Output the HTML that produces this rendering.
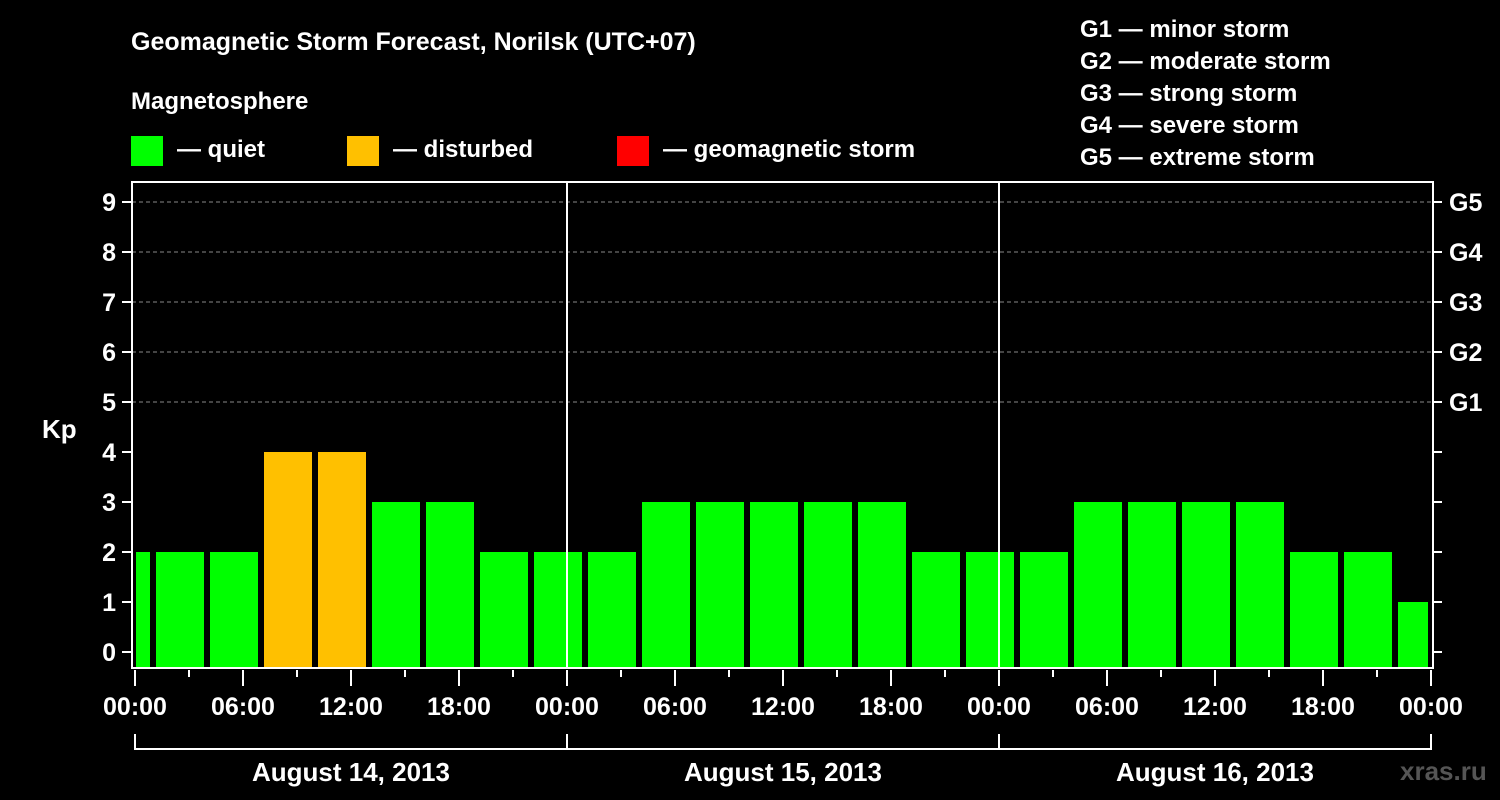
<!DOCTYPE html>
<html><head><meta charset="utf-8"><style>
body{margin:0;background:#000;width:1500px;height:800px;overflow:hidden}
svg{display:block;font-family:"Liberation Sans",Arial,sans-serif;font-weight:bold}
</style></head><body>
<svg id="c" width="1500" height="800">
<text x="131" y="50" fill="#fff" font-size="25">Geomagnetic Storm Forecast, Norilsk (UTC+07)</text>
<text x="131" y="109" fill="#fff" font-size="24">Magnetosphere</text>
<g><rect x="131" y="136" width="32" height="30" fill="#00ff00"/><text x="177" y="157" fill="#fff" font-size="24">— quiet</text></g>
<g><rect x="347" y="136" width="32" height="30" fill="#ffc000"/><text x="393" y="157" fill="#fff" font-size="24">— disturbed</text></g>
<g><rect x="617" y="136" width="32" height="30" fill="#ff0000"/><text x="663" y="157" fill="#fff" font-size="24">— geomagnetic storm</text></g>
<g fill="#fff" font-size="24">
<text x="1080" y="37">G1 — minor storm</text><text x="1080" y="69">G2 — moderate storm</text><text x="1080" y="101">G3 — strong storm</text><text x="1080" y="133">G4 — severe storm</text><text x="1080" y="165">G5 — extreme storm</text></g>
<text x="42" y="438" fill="#fff" font-size="26">Kp</text>
<text x="1400" y="780" fill="#555" font-size="26">xras.ru</text>
<g id="grid"></g><g id="bars"></g><g id="axes"></g>
</svg>
<script>
const kpValues=[2,2,2,4,4,3,3,2,2,2,3,3,3,3,3,2,2,2,3,3,3,3,2,2,1];
const barStartHours=[-2,1,4,7,10,13,16,19,22,25,28,31,34,37,40,43,46,49,52,55,58,61,64,67,70];
const yTicks=[0,1,2,3,4,5,6,7,8,9];
const gLabels=["G1","G2","G3","G4","G5"];
const gLevels=[5,6,7,8,9];
const xTickLabels=["00:00","06:00","12:00","18:00","00:00","06:00","12:00","18:00","00:00","06:00","12:00","18:00","00:00"];
const dayLabels=["August 14, 2013","August 15, 2013","August 16, 2013"];
const NS="http://www.w3.org/2000/svg";
const X0=135,PX_H=18,Y0=652,PX_K=50,L=132,R=1433,T=182,B=668;
const xs=h=>X0+h*PX_H, ys=k=>Y0-k*PX_K;
function mk(p,tag,a){const e=document.createElementNS(NS,tag);for(const k in a)e.setAttribute(k,a[k]);p.appendChild(e);return e;}
const grid=document.getElementById('grid'),bars=document.getElementById('bars'),axes=document.getElementById('axes');
gLevels.forEach((g,i)=>{
 const l=mk(grid,'line',{x1:L,x2:R,y1:ys(g),y2:ys(g),stroke:'#888','stroke-dasharray':'4,3','stroke-width':1});
 
 
});
kpValues.forEach((v,i)=>{
 let x1=xs(barStartHours[i])+3,x2=xs(barStartHours[i]+3)-3;
 x1=Math.max(x1,L+4);x2=Math.min(x2,R-5);
 const col=v>=5?'#ff0000':(v>=4?'#ffc000':'#00ff00');
 const r=mk(bars,'rect',{x:x1,y:ys(v),width:x2-x1,height:B-ys(v),fill:col});
 
 
});
// day separators
[1,2].forEach(d=>{const l=mk(axes,'line',{x1:xs(24*d),x2:xs(24*d),y1:T,y2:B,stroke:'#fff','stroke-width':2});
 
 });
const fr=mk(axes,'rect',{x:L,y:T,width:R-L,height:B-T,fill:'none',stroke:'#fff','stroke-width':2});


yTicks.forEach(k=>{
 mk(axes,'line',{x1:L-10,x2:L,y1:ys(k),y2:ys(k),stroke:'#fff','stroke-width':2});
 mk(axes,'line',{x1:R,x2:R+9,y1:ys(k),y2:ys(k),stroke:'#fff','stroke-width':2});
 const t=mk(axes,'text',{x:L-16,y:ys(k)+9,fill:'#fff','font-size':25,'text-anchor':'end'});t.textContent=k;
 
 
});
gLevels.forEach((g,i)=>{const t=mk(axes,'text',{x:1449,y:ys(g)+9,fill:'#fff','font-size':25});t.textContent=gLabels[i];
 
 });
for(let h=0;h<=72;h+=3){const major=h%6===0;
 mk(axes,'line',{x1:xs(h),x2:xs(h),y1:B+2,y2:major?B+18:B+9,stroke:'#fff','stroke-width':2});}
xTickLabels.forEach((s,i)=>{const t=mk(axes,'text',{x:xs(i*6),y:715,fill:'#fff','font-size':25,'text-anchor':'middle'});t.textContent=s;
 
 });
mk(axes,'line',{x1:xs(0),x2:xs(72),y1:749,y2:749,stroke:'#fff','stroke-width':2});
for(let d=0;d<=3;d++)mk(axes,'line',{x1:xs(24*d),x2:xs(24*d),y1:734,y2:750,stroke:'#fff','stroke-width':2});
dayLabels.forEach((s,i)=>{const t=mk(axes,'text',{x:xs(24*i+12),y:781,fill:'#fff','font-size':26,'text-anchor':'middle'});t.textContent=s;
 
 });
</script>
</body></html>
